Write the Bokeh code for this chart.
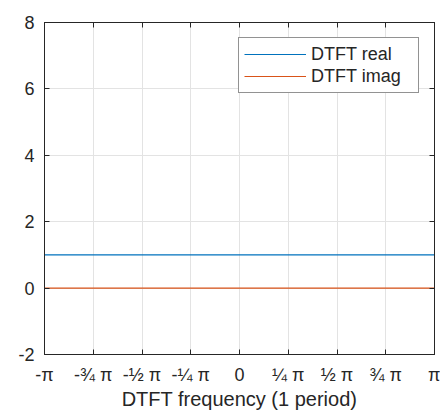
import numpy as np
from bokeh.plotting import figure
from bokeh.models import LinearAxis, FixedTicker, Range1d, Legend, LegendItem
from bokeh.embed import file_html
from bokeh.resources import INLINE

# data
freq = [-np.pi, -0.75*np.pi, -0.5*np.pi, -0.25*np.pi, 0.0, 0.25*np.pi, 0.5*np.pi, 0.75*np.pi, np.pi]
dtft_real = [1, 1, 1, 1, 1, 1, 1, 1, 1]
dtft_imag = [0, 0, 0, 0, 0, 0, 0, 0, 0]
x_tick_labels = ["-\u03c0", "-\u00be \u03c0", "-\u00bd \u03c0", "-\u00bc \u03c0", "0",
                 "\u00bc \u03c0", "\u00bd \u03c0", "\u00be \u03c0", "\u03c0"]
y_ticks = [-2, 0, 2, 4, 6, 8]
y_tick_labels = ["-2", "0", "2", "4", "6", "8"]

FONT = "Liberation Sans"
DARK = "#262626"

p = figure(width=440, height=414, output_backend="svg", toolbar_location=None,
           x_range=Range1d(-np.pi, np.pi), y_range=Range1d(-2, 8),
           min_border_left=44, min_border_right=6, min_border_top=22, min_border_bottom=60)
p.background_fill_color = "white"
p.border_fill_color = "white"
p.outline_line_color = DARK
p.outline_line_width = 1

r1 = p.line(freq, dtft_real, line_color="#0072BD", line_width=1.2)
r2 = p.line(freq, dtft_imag, line_color="#D95319", line_width=1.2)

xt = FixedTicker(ticks=freq)
yt = FixedTicker(ticks=y_ticks)
p.xaxis.ticker = xt
p.yaxis.ticker = yt
p.xgrid.ticker = xt
p.ygrid.ticker = yt
p.grid.grid_line_color = "#e3e3e3"
p.grid.grid_line_width = 1

p.xaxis.major_label_overrides = {f: l for f, l in zip(freq, x_tick_labels)}
p.yaxis.major_label_overrides = {y: l for y, l in zip(y_ticks, y_tick_labels)}
p.xaxis.axis_label = "DTFT frequency (1 period)"

for ax in [p.xaxis[0], p.yaxis[0]]:
    ax.axis_line_color = DARK
    ax.major_tick_line_color = DARK
    ax.major_tick_in = 5
    ax.major_tick_out = 0
    ax.minor_tick_line_color = None
    ax.major_label_text_font = FONT
    ax.major_label_text_font_size = "18px"
    ax.major_label_text_color = DARK
    ax.axis_label_text_font = FONT
    ax.axis_label_text_font_size = "20px"
    ax.axis_label_text_font_style = "normal"
    ax.axis_label_text_color = DARK

p.xaxis.major_label_standoff = 10
p.xaxis.axis_label_standoff = 0
p.yaxis.major_label_standoff = 10

top = LinearAxis(ticker=xt, major_label_text_font_size="0px", axis_line_color=DARK,
                 major_tick_line_color=DARK, major_tick_in=5, major_tick_out=0,
                 minor_tick_line_color=None, major_label_standoff=0)
right = LinearAxis(ticker=yt, major_label_text_font_size="0px", axis_line_color=DARK,
                   major_tick_line_color=DARK, major_tick_in=5, major_tick_out=0,
                   minor_tick_line_color=None, major_label_standoff=0)
top.major_label_overrides = {f: "" for f in freq}
right.major_label_overrides = {y: "" for y in y_ticks}
p.add_layout(top, "above")
p.add_layout(right, "right")

legend = Legend(items=[LegendItem(label="DTFT real", renderers=[r1]),
                       LegendItem(label="DTFT imag", renderers=[r2])],
                location="top_right", margin=15, padding=5, spacing=0,
                glyph_width=62, glyph_height=22, label_standoff=5, label_width=102,
                label_text_font=FONT, label_text_font_size="18px", label_text_color=DARK,
                border_line_color=DARK, border_line_width=1,
                background_fill_color="white", background_fill_alpha=1.0)
p.add_layout(legend, "center")

open("out.html", "w").write(file_html(p, INLINE))
